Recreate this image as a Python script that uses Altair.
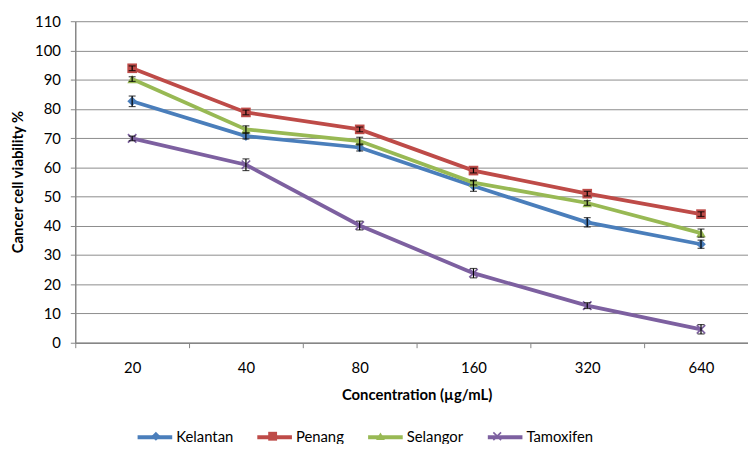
import altair as alt
import pandas as pd

concentrations = ["20", "40", "80", "160", "320", "640"]
series_names = ["Kelantan", "Penang", "Selangor", "Tamoxifen"]
kelantan = [82.6, 70.7, 66.8, 53.6, 41.2, 33.7]
penang = [93.9, 78.8, 73.0, 58.9, 51.0, 44.0]
selangor = [90.2, 73.0, 69.0, 54.8, 47.8, 37.5]
tamoxifen = [69.9, 60.9, 40.1, 23.8, 12.7, 4.6]
kelantan_err = [1.8, 1.0, 1.2, 1.8, 1.6, 1.4]
penang_err = [0.8, 0.8, 0.8, 0.8, 0.8, 0.8]
selangor_err = [0.8, 1.2, 1.3, 0.8, 0.8, 1.4]
tamoxifen_err = [0.8, 2.0, 1.5, 1.6, 1.0, 1.6]
y_ticks = [0, 10, 20, 30, 40, 50, 60, 70, 80, 90, 100, 110]

colors = ["#4A7EBB", "#BE4B48", "#98B954", "#7D60A0"]
x_shape = "M-1,-0.75L-0.75,-1L0,-0.25L0.75,-1L1,-0.75L0.25,0L1,0.75L0.75,1L0,0.25L-0.75,1L-1,0.75L-0.25,0Z"
shapes = ["diamond", "square", "triangle-up", x_shape]

values = [kelantan, penang, selangor, tamoxifen]
errors = [kelantan_err, penang_err, selangor_err, tamoxifen_err]
marker_names = [s + "\u200b" for s in series_names]
rows = []
for s, sb, vals, errs in zip(series_names, marker_names, values, errors):
    for i, (c, v, e) in enumerate(zip(concentrations, vals, errs)):
        rows.append({"idx": i, "conc": c, "series": s, "series_b": sb,
                     "value": v, "lo": v - e, "hi": v + e})
df = pd.DataFrame(rows)

FONT = "Lato"
xscale = alt.Scale(domain=[-0.5, 5.413], nice=False, zero=False)
yscale = alt.Scale(domain=[0, 110], nice=False, zero=False)
label_expr = "[" + ",".join("'%s'" % c for c in concentrations) + "][datum.value]"

x_label_axis = alt.Axis(values=list(range(len(concentrations))), labelExpr=label_expr,
                        ticks=False, grid=False, domain=True, orient="bottom",
                        labelPadding=18, title="Concentration (µg/mL)",
                        titleX=345, titleY=52, titleBaseline="middle", titleAlign="center")
x_tick_axis = alt.Axis(values=[i - 0.5 for i in range(len(concentrations))], labels=False,
                       ticks=True, tickSize=5, grid=False, domain=False, orient="bottom",
                       title=None)
y_axis = alt.Axis(values=y_ticks, tickSize=5, labelPadding=10, grid=True, labelOverlap=False,
                  title="Cancer cell viability %", titleX=-58, titleY=162,
                  titleAlign="center", titleBaseline="middle")

base = alt.Chart(df)
color_scale = alt.Scale(domain=series_names, range=colors)

lines = base.mark_line(strokeWidth=3.8).encode(
    x=alt.X("idx:Q", scale=xscale, axis=x_label_axis),
    y=alt.Y("value:Q", scale=yscale, axis=y_axis),
    color=alt.Color("series:N", scale=color_scale, legend=alt.Legend(
        orient="none", legendX=61, legendY=401, direction="horizontal", title=None,
        symbolType="stroke", symbolSize=1225, symbolStrokeWidth=4, labelOffset=2,
        gridAlign="none", columnPadding=16, columns=4,
        labelFont=FONT, labelFontSize=15, labelColor="#000")),
)

legend_b = alt.Legend(
    orient="none", legendX=61, legendY=412, direction="horizontal", title=None,
    symbolSize=80, labelOffset=16, symbolOffset=13, gridAlign="none", columnPadding=16,
    columns=4, labelFont=FONT, labelFontSize=15, labelOpacity=0, symbolStrokeWidth=0)

points = base.mark_point(filled=True, size=95, opacity=1).encode(
    x=alt.X("idx:Q", scale=xscale, axis=None),
    y=alt.Y("value:Q", scale=yscale, axis=y_axis),
    fill=alt.Fill("series_b:N", scale=alt.Scale(domain=marker_names, range=colors), legend=legend_b),
    shape=alt.Shape("series_b:N", scale=alt.Scale(domain=marker_names, range=shapes), legend=legend_b),
)

bars = base.mark_rule(color="#000", strokeWidth=1.2).encode(
    x=alt.X("idx:Q", scale=xscale, axis=x_tick_axis),
    y=alt.Y("lo:Q", scale=yscale, axis=y_axis),
    y2="hi:Q",
)
caps_lo = base.mark_tick(color="#000", thickness=1.2, size=7, orient="horizontal").encode(
    x=alt.X("idx:Q", scale=xscale, axis=None),
    y=alt.Y("lo:Q", scale=yscale, axis=y_axis),
)
caps_hi = base.mark_tick(color="#000", thickness=1.2, size=7, orient="horizontal").encode(
    x=alt.X("idx:Q", scale=xscale, axis=None),
    y=alt.Y("hi:Q", scale=yscale, axis=y_axis),
)

chart = alt.layer(lines, points, bars, caps_lo, caps_hi).resolve_axis(
    x="independent"
).resolve_legend(
    color="independent", fill="independent", shape="independent"
).properties(
    width=680, height=325,
    padding={"left": 68, "top": 11, "right": 0, "bottom": 100},
    autosize=alt.AutoSizeParams(type="none"),
).configure_view(stroke=None).configure_axis(
    labelFont=FONT, labelFontSize=15, labelColor="#000",
    domainColor="#868686", tickColor="#868686", gridColor="#8c8c8c",
    domainWidth=1.5, gridWidth=1,
    titleFont=FONT, titleFontSize=15, titleFontWeight="bold", titleColor="#000",
)

chart.save("out.html", embed_options={"renderer": "svg", "actions": False})
